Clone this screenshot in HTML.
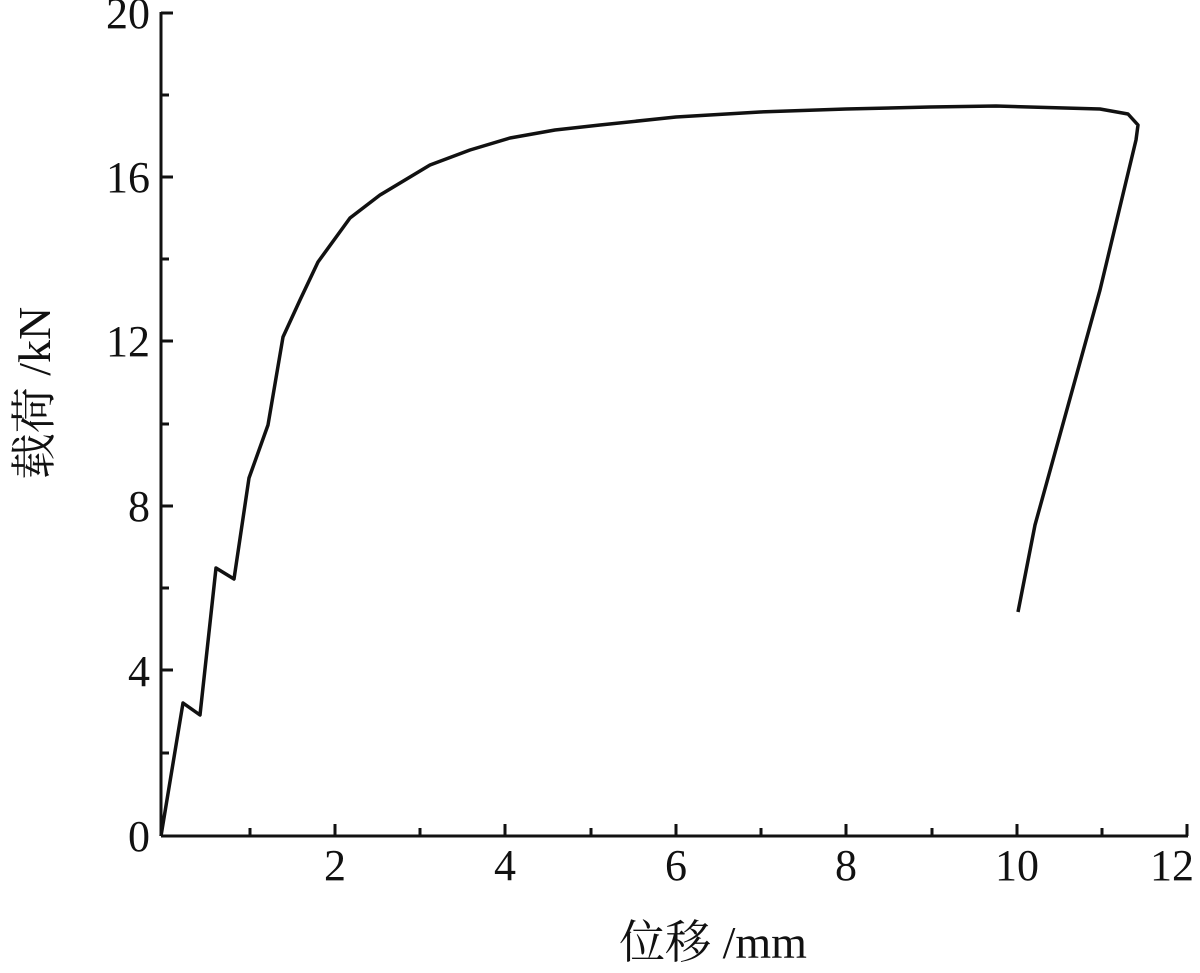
<!DOCTYPE html>
<html><head><meta charset="utf-8"><style>html,body{margin:0;background:#fff}</style></head><body>
<svg width="1200" height="968" xmlns="http://www.w3.org/2000/svg" font-family="Liberation Serif, Noto Serif CJK SC, serif" font-size="44" fill="#111">
<g stroke="#111" stroke-width="3" fill="none">
<line x1="161" y1="836" x2="1188" y2="836"/>
<line x1="161" y1="836" x2="161" y2="12"/>
<path d="M250 836v-8M335 836v-12M420 836v-8M505 836v-12M591 836v-8M676 836v-12M761 836v-8M846 836v-12M932 836v-8M1017 836v-12M1102 836v-8M1187 836v-12"/>
<path d="M161 753h8M161 670h12M161 588h8M161 506h12M161 424h8M161 341h12M161 259h8M161 177h12M161 95h8M161 13h12"/>
<polyline stroke-width="3.5" stroke-linejoin="round" points="161,836 183,703 200,715 216,568 234,579 249,478 268,425 283,337 300,300 318,262 350,218 380,195 430,165 470,150 510,138 555,130 600,125 676,117 760,112 846,109 930,107 996,106 1100,109 1128,114 1138,125 1136,140 1100,290 1035,525 1018,612"/>
</g>
<g text-anchor="end">
<text x="150" y="851">0</text><text x="150" y="686">4</text><text x="150" y="521">8</text>
<text x="150" y="356">12</text><text x="150" y="192">16</text><text x="150" y="28">20</text>
</g>
<g text-anchor="middle">
<text x="335" y="880">2</text><text x="505" y="880">4</text><text x="676" y="880">6</text>
<text x="846" y="880">8</text><text x="1017" y="880">10</text><text x="1172" y="880">12</text>
<text x="713" y="958" font-size="46">位移 /mm</text>
<text transform="translate(50,393) rotate(-90)" font-size="46">载荷 /kN</text>
</g>
</svg>
</body></html>
